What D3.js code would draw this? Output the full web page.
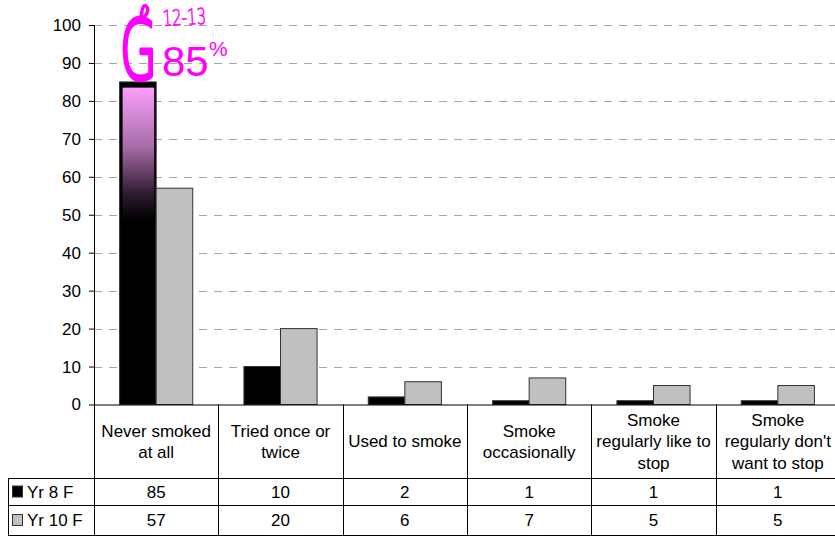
<!DOCTYPE html>
<html><head><meta charset="utf-8">
<script src="https://cdn.jsdelivr.net/npm/d3@7/dist/d3.min.js"></script>
<style>
body{margin:0;background:#fff;}
svg{display:block;font-family:"Liberation Sans",Arial,sans-serif;}
</style></head>
<body><svg id="c" width="835" height="536"></svg>
<script>
const categories = [
  ["Never smoked","at all"],
  ["Tried once or","twice"],
  ["Used to smoke"],
  ["Smoke","occasionally"],
  ["Smoke","regularly like to","stop"],
  ["Smoke","regularly don't","want to stop"]
];
const seriesNames = ["Yr 8 F","Yr 10 F"];
const yr8 = [85,10,2,1,1,1];
const yr10 = [57,20,6,7,5,5];
const yTicks = [0,10,20,30,40,50,60,70,80,90,100];
const highlight = [83.5, 48.5];
const noteLetter = "G";
const noteYear = "12-13";
const noteValue = "85";

(function(){
const FONT = "'Liberation Sans',Arial,sans-serif";
const FS = 17;
const svg = d3.select("#c");
const pLeft = 94, pRight = 840, pTop = 25, pBottom = 404.5;
const headerBottom = 478, row1Bottom = 505, tableBottom = 535, legendLeft = 8;

const x = d3.scaleBand().domain(d3.range(categories.length)).range([pLeft,pRight]).paddingInner(0).paddingOuter(0);
const xs = d3.scaleBand().domain([0,1]).range([0,x.bandwidth()]).paddingInner(0).paddingOuter(0.7);
const y = d3.scaleLinear().domain([0,100]).range([pBottom,pTop]);
const series = [yr8, yr10];
const fills = ["#000000","#c0c0c0"];

// gridlines
svg.append("g").selectAll("line").data(yTicks.filter(d=>d>0)).join("line")
  .attr("x1",pLeft).attr("x2",pRight).attr("y1",d=>Math.round(y(d))+0.5).attr("y2",d=>Math.round(y(d))+0.5)
  .attr("stroke","#a6a6a6").attr("stroke-width",1).attr("stroke-dasharray","8,7");

// gradient def
const defs = svg.append("defs");
const grad = defs.append("linearGradient").attr("id","pg").attr("x1",0).attr("x2",0).attr("y1",0).attr("y2",1);
grad.append("stop").attr("offset","0%").attr("stop-color","#fa9ffa");
grad.append("stop").attr("offset","45%").attr("stop-color","#a66ca6");
grad.append("stop").attr("offset","80%").attr("stop-color","#2e1a2e");
grad.append("stop").attr("offset","100%").attr("stop-color","#000");

// bars
series.forEach((s,si)=>{
  svg.append("g").selectAll("rect").data(s).join("rect")
    .attr("x",(d,i)=>x(i)+xs(si))
    .attr("y",d=>y(d))
    .attr("width",xs.bandwidth())
    .attr("height",d=>pBottom-y(d))
    .attr("fill",fills[si])
    .attr("stroke","#333").attr("stroke-width",1);
});

// highlight on first bar
svg.append("rect")
  .attr("x",x(0)+xs(0)+3).attr("width",xs.bandwidth()-5)
  .attr("y",y(highlight[0])).attr("height",y(highlight[1])-y(highlight[0]))
  .attr("fill","url(#pg)");

// y axis
const ax = svg.append("g").attr("transform",`translate(${pLeft},0)`)
  .call(d3.axisLeft(y).tickValues(yTicks).tickSize(5).tickPadding(8));
ax.select(".domain").remove();
ax.selectAll("line").attr("stroke","#000");
ax.selectAll("text").attr("font-size",FS).attr("fill","#000").attr("font-family",FONT);
svg.append("line").attr("x1",pLeft+0.5).attr("x2",pLeft+0.5).attr("y1",pTop).attr("y2",tableBottom).attr("stroke","#000");

// table lines
const tl = svg.append("g").attr("stroke","#000").attr("stroke-width",1);
tl.append("line").attr("x1",pLeft).attr("x2",pRight).attr("y1",pBottom+0.5).attr("y2",pBottom+0.5);
[headerBottom,row1Bottom,tableBottom].forEach(v=>{
  tl.append("line").attr("x1",legendLeft).attr("x2",pRight).attr("y1",v+0.5).attr("y2",v+0.5);
});
tl.append("line").attr("x1",legendLeft+0.5).attr("x2",legendLeft+0.5).attr("y1",headerBottom).attr("y2",tableBottom);
d3.range(1,categories.length).forEach(i=>{
  tl.append("line").attr("x1",Math.round(x(i))+0.5).attr("x2",Math.round(x(i))+0.5).attr("y1",pBottom).attr("y2",tableBottom);
});

// header labels
const hc = (pBottom+headerBottom)/2;
categories.forEach((lines,i)=>{
  const t = svg.append("text").attr("text-anchor","middle").attr("font-size",FS).attr("fill","#000").attr("font-family",FONT);
  const lh = 21.5;
  lines.forEach((ln,j)=>{
    t.append("tspan").attr("x",x(i)+x.bandwidth()/2)
      .attr("y",hc + (j-(lines.length-1)/2)*lh + 6).text(ln);
  });
});

// data rows
const rowC = [(headerBottom+row1Bottom)/2, (row1Bottom+tableBottom)/2];
series.forEach((s,si)=>{
  svg.append("g").selectAll("text").data(s).join("text")
    .attr("x",(d,i)=>x(i)+x.bandwidth()/2).attr("y",rowC[si]+6)
    .attr("text-anchor","middle").attr("font-size",FS).attr("fill","#000").attr("font-family",FONT).text(d=>d);
  svg.append("rect").attr("x",12.5).attr("y",rowC[si]-5.5).attr("width",10).attr("height",11)
    .attr("fill",fills[si]).attr("stroke","#333");
  svg.append("text").attr("x",27).attr("y",rowC[si]+6).attr("font-size",FS).attr("fill","#000").attr("font-family",FONT).text(seriesNames[si]);
});

// handwritten annotation
const mag = "#ff00ff";
svg.append("text").attr("x",0).attr("y",0).attr("font-size",82)
  .attr("transform","translate(120,79) scale(0.58,1)")
  .attr("fill",mag).attr("stroke",mag).attr("stroke-width",3.6).attr("vector-effect","non-scaling-stroke")
  .attr("stroke-linejoin","round").attr("stroke-linecap","round")
  .attr("font-family","'DejaVu Sans',sans-serif").attr("font-weight",200)
  .text(noteLetter);
svg.append("path")
  .attr("d","M140,21 C142,13 142,7 144,6 C147,5 149,9 147,13 C146,16 143,18 140,21")
  .attr("fill","none").attr("stroke",mag).attr("stroke-width",3.5).attr("stroke-linecap","round").attr("stroke-linejoin","round");
svg.append("text").attr("x",162).attr("y",76).attr("font-size",42).attr("fill",mag).attr("font-family",FONT).text(noteValue);
svg.append("text").attr("x",209).attr("y",56).attr("font-size",21).attr("fill",mag).attr("font-family",FONT).text("%");
svg.append("text").attr("x",0).attr("y",0).attr("font-size",22)
  .attr("transform","translate(163,26) rotate(-3) scale(0.68,1)")
  .attr("fill",mag).attr("stroke",mag).attr("stroke-width",0.6).attr("vector-effect","non-scaling-stroke")
  .attr("font-family","'DejaVu Sans',sans-serif").attr("font-weight",200)
  .text(noteYear);
})();
</script></body></html>
